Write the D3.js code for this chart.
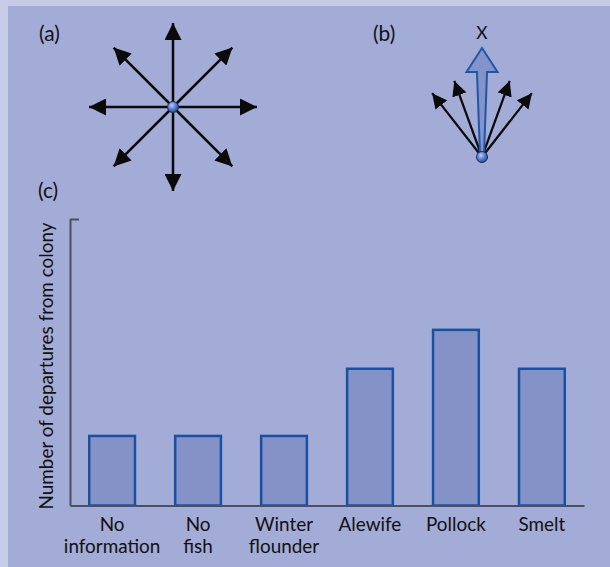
<!DOCTYPE html>
<html><head><meta charset="utf-8">
<script src="https://cdn.jsdelivr.net/npm/d3@7"></script>
<style>body{margin:0;background:#c7cbe7;overflow:hidden}</style>
</head><body>
<svg id="c" width="610" height="567"></svg>
<script>
// ---- data ----
const categories = [["No","information"],["No","fish"],["Winter","flounder"],["Alewife"],["Pollock"],["Smelt"]];
const departures = [2, 2, 2, 3.9, 5, 3.9];
const yMax = 8.1;
const fanA = [0, 45, 90, 135, 180, 225, 270, 315];   // directions in (a), degrees clockwise from up
const fanB = [-38, -20, 20, 38];                      // directions in (b)
const preferred = [0];                                // the blue "X" direction in (b)
const panelLabels = ["(a)", "(b)", "(c)"];
const yTitle = "Number of departures from colony";

const FONT = "Lato, 'Open Sans', sans-serif";
const FS = 18.5;
const svg = d3.select("#c");

svg.append("rect").attr("x",0).attr("y",0).attr("width",610).attr("height",567).attr("fill","#c7cbe7");
svg.append("rect").attr("x",8).attr("y",6).attr("width",602).attr("height",561).attr("fill","#a3abd7");

const defs = svg.append("defs");
const grad = defs.append("radialGradient").attr("id","dot").attr("cx","40%").attr("cy","35%").attr("r","65%");
grad.append("stop").attr("offset","0%").attr("stop-color","#b8cdf5");
grad.append("stop").attr("offset","55%").attr("stop-color","#5a7fd0");
grad.append("stop").attr("offset","100%").attr("stop-color","#2a4a9a");

function marker(id, len, hw){
  defs.append("marker").attr("id",id).attr("markerUnits","userSpaceOnUse")
    .attr("viewBox",`0 ${-hw} ${len} ${2*hw}`).attr("refX",len).attr("refY",0)
    .attr("markerWidth",len).attr("markerHeight",2*hw).attr("orient","auto")
    .append("path").attr("d",`M0,${-hw}L${len},0L0,${hw}Z`).attr("fill","#0a0a0a");
}
marker("headA", 17, 8.5);
marker("headB", 15, 7.5);

// ---- (a) fan ----
const cA = [173,107], rA = d3.scaleLinear().domain([0,1]).range([0,84]);
const gA = svg.append("g").attr("transform",`translate(${cA})`);
gA.selectAll("line").data(fanA).join("line")
  .attr("x1",0).attr("y1",0)
  .attr("x2",d=>d3.pointRadial(d*Math.PI/180, rA(1))[0])
  .attr("y2",d=>d3.pointRadial(d*Math.PI/180, rA(1))[1])
  .attr("stroke","#0a0a0a").attr("stroke-width",2.5).attr("marker-end","url(#headA)");
gA.append("circle").attr("r",5.5).attr("fill","url(#dot)").attr("stroke","#1c2c5c").attr("stroke-width",1);

// ---- (b) fan ----
const cB = [482,157], rB = d3.scaleLinear().domain([0,1]).range([0,81]);
const gB = svg.append("g").attr("transform",`translate(${cB})`);
gB.selectAll("line").data(fanB).join("line")
  .attr("x1",0).attr("y1",0)
  .attr("x2",d=>d3.pointRadial(d*Math.PI/180, rB(1))[0])
  .attr("y2",d=>d3.pointRadial(d*Math.PI/180, rB(1))[1])
  .attr("stroke","#0a0a0a").attr("stroke-width",2.2).attr("marker-end","url(#headB)");
// blue wide arrow
const bigLen = 109, headL = 24, headHW = 15.5, shaftTop = 5, shaftBot = 2;
gB.selectAll("path.big").data(preferred).join("path").attr("class","big")
  .attr("transform",d=>`rotate(${d})`)
  .attr("d",`M0,${-bigLen}L${headHW},${-bigLen+headL}L${shaftTop},${-bigLen+headL}L${shaftBot},-2L${-shaftBot},-2L${-shaftTop},${-bigLen+headL}L${-headHW},${-bigLen+headL}Z`)
  .attr("fill","#8593cb").attr("stroke","#1f56a8").attr("stroke-width",2).attr("stroke-linejoin","miter");
gB.append("circle").attr("r",5.5).attr("fill","url(#dot)").attr("stroke","#1c2c5c").attr("stroke-width",1);

// ---- (c) bar chart ----
const x = d3.scaleBand().domain(d3.range(categories.length)).range([70,584]).paddingInner(0.44).paddingOuter(0.21);
const y = d3.scaleLinear().domain([0,yMax]).range([505.5,219]);

svg.selectAll("rect.bar").data(departures).join("rect").attr("class","bar")
  .attr("x",(d,i)=>x(i)+1.2).attr("width",x.bandwidth()-2.4)
  .attr("y",d=>y(d)+1.2).attr("height",d=>y(0)-y(d)-1.2)
  .attr("fill","#8592c8").attr("stroke","#1a50a2").attr("stroke-width",2.5);

const yAxis = svg.append("g").attr("transform","translate(70,0)")
  .call(d3.axisLeft(y).tickValues([yMax]).tickSize(-9).tickSizeOuter(0).tickFormat(""));
yAxis.selectAll("path,line").attr("stroke","#4a4f62").attr("stroke-width",2);

const xAxis = svg.append("g").attr("transform",`translate(0,${y(0)})`)
  .call(d3.axisBottom(x).tickSize(0).tickSizeOuter(0).tickFormat(""));
xAxis.select("path").attr("stroke","#4a4f62").attr("stroke-width",2);

// ---- texts ----
const allText = [];
const labelPos = [[39,41],[373,41],[38,198]];
allText.push(svg.selectAll("text.pl").data(panelLabels).join("text").attr("class","pl")
  .attr("x",(d,i)=>labelPos[i][0]).attr("y",(d,i)=>labelPos[i][1])
  .attr("font-size",20.5).text(d=>d));

allText.push(gB.append("text").attr("x",0).attr("y",-118).attr("text-anchor","middle")
  .attr("font-size",17).text("X"));

const lines = categories.flatMap((c,i)=>c.map((t,j)=>({t,i,j})));
allText.push(svg.selectAll("text.xl").data(lines).join("text").attr("class","xl")
  .attr("x",d=>x(d.i)+x.bandwidth()/2).attr("y",d=>531+d.j*22)
  .attr("text-anchor","middle").attr("font-size",FS).text(d=>d.t));

const yt = svg.append("text").attr("transform","translate(53,366) rotate(-90)")
  .attr("text-anchor","middle").attr("font-size",FS).text(yTitle);
allText.push(yt);

allText.forEach(s=>s.attr("font-family",FONT).attr("fill","#111"));
// uniform horizontal condensing so the axis title spans the measured length
const k = 287 / yt.node().getComputedTextLength();
allText.forEach(s=>s.each(function(){
  const w = this.getComputedTextLength();
  d3.select(this).attr("textLength", w*k).attr("lengthAdjust","spacingAndGlyphs");
}));
</script>
</body></html>
